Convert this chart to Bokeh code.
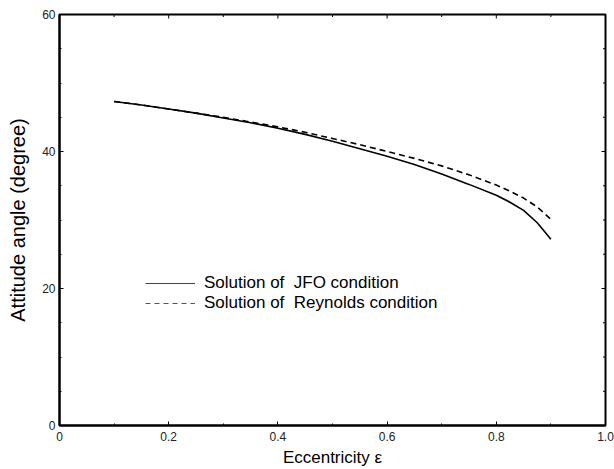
import math
from bokeh.plotting import figure
from bokeh.models import FixedTicker, Legend, LegendItem, ColumnDataSource, Range1d
from bokeh.embed import file_html
from bokeh.resources import INLINE

ecc = [0.1, 0.15, 0.2, 0.25, 0.3, 0.35, 0.4, 0.45, 0.5, 0.55, 0.6, 0.65, 0.7, 0.75, 0.8, 0.825, 0.85, 0.875, 0.9]
jfo = [47.3, 46.8, 46.2, 45.6, 44.9, 44.2, 43.4, 42.5, 41.5, 40.4, 39.3, 38.1, 36.7, 35.2, 33.6, 32.6, 31.4, 29.6, 27.2]
reynolds = [47.3, 46.8, 46.2, 45.6, 45.0, 44.3, 43.6, 42.8, 41.9, 41.0, 40.0, 39.0, 37.9, 36.6, 35.1, 34.2, 33.2, 31.9, 30.1]

x_ticks = [0, 0.2, 0.4, 0.6, 0.8, 1.0]
x_minor = [0.1, 0.3, 0.5, 0.7, 0.9]
x_tick_labels = ["0", "0.2", "0.4", "0.6", "0.8", "1.0"]
y_ticks = [0, 20, 40, 60]
y_minor = [5, 10, 15, 25, 30, 35, 45, 50, 55]
y_tick_labels = ["0", "20", "40", "60"]
legend_labels = ["Solution of  JFO condition", "Solution of  Reynolds condition"]

X_MIN, X_MAX = 0, 1.0
Y_MIN, Y_MAX = 0, 60
FONT = "Liberation Sans"

p = figure(width=614, height=469, output_backend="svg", toolbar_location=None,
           x_range=Range1d(X_MIN, X_MAX), y_range=Range1d(Y_MIN, Y_MAX),
           min_border_left=59, min_border_right=9, min_border_top=14, min_border_bottom=10)
p.grid.visible = False
p.outline_line_color = "black"
p.outline_line_width = 2
p.background_fill_color = "white"
p.border_fill_color = "white"

src = ColumnDataSource(dict(x=ecc, jfo=jfo, rey=reynolds))
p.line("x", "jfo", source=src, line_color="black", line_width=1.6)
p.line("x", "rey", source=src, line_color="black", line_width=1.6, line_dash="6 4")

# legend proxies (thin gray samples like the reference)
proxy = ColumnDataSource(dict(x=[math.nan], y=[math.nan]))
r1 = p.line("x", "y", source=proxy, line_color="#444", line_width=1.2)
r2 = p.line("x", "y", source=proxy, line_color="#555", line_width=1.0, line_dash="5 4")

# inward ticks on the top and right frame edges (clipped to the frame)
p.scatter(x=x_ticks, y=[Y_MAX] * len(x_ticks), marker="dash", size=8, angle=math.pi / 2,
          line_color="black", line_width=1)
p.scatter(x=x_minor, y=[Y_MAX] * len(x_minor), marker="dash", size=5, angle=math.pi / 2,
          line_color="black", line_width=1)
p.scatter(x=[X_MAX] * len(y_ticks), y=y_ticks, marker="dash", size=8,
          line_color="black", line_width=1)
p.scatter(x=[X_MAX] * len(y_minor), y=y_minor, marker="dash", size=5,
          line_color="black", line_width=1)


def style_axis(ax):
    ax.axis_line_color = "black"
    ax.axis_line_width = 2
    ax.major_tick_in = 4
    ax.major_tick_out = 0
    ax.minor_tick_in = 2
    ax.minor_tick_out = 0
    ax.major_tick_line_color = "black"
    ax.minor_tick_line_color = "black"
    ax.major_label_text_font = FONT
    ax.major_label_text_color = "#222"
    ax.major_label_text_font_size = "12px"
    ax.axis_label_text_font = FONT
    ax.axis_label_text_font_style = "normal"
    ax.axis_label_text_color = "black"


xt = FixedTicker(ticks=x_ticks, minor_ticks=x_minor + x_ticks)
yt = FixedTicker(ticks=y_ticks, minor_ticks=y_minor + y_ticks)

xa = p.xaxis[0]
xa.ticker = xt
xa.major_label_overrides = {t: l for t, l in zip(x_ticks, x_tick_labels)}
style_axis(xa)
xa.major_label_standoff = 6
xa.axis_label = "Eccentricity ε"
xa.axis_label_text_font_size = "17px"
xa.axis_label_standoff = 4

ya = p.yaxis[0]
ya.ticker = yt
ya.major_label_overrides = {t: l for t, l in zip(y_ticks, y_tick_labels)}
style_axis(ya)
ya.major_label_standoff = 4
ya.axis_label = "Attitude angle (degree)"
ya.axis_label_text_font_size = "20px"
ya.axis_label_standoff = 10

legend = Legend(items=[LegendItem(label=legend_labels[0], renderers=[r1]),
                       LegendItem(label=legend_labels[1], renderers=[r2])],
                location=(86, 112), orientation="vertical",
                glyph_width=50, glyph_height=18, label_height=18, spacing=-2, padding=0,
                margin=0, label_standoff=9, background_fill_alpha=0, border_line_alpha=0,
                label_text_font=FONT, label_text_font_size="17px", label_text_color="black")
p.add_layout(legend)

open("out.html", "w").write(file_html(p, INLINE))
